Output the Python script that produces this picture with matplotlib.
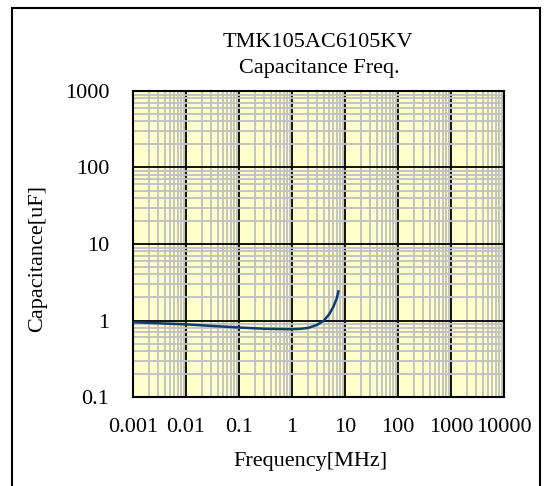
import matplotlib.pyplot as plt
from matplotlib.ticker import LogLocator, FixedLocator, NullFormatter
from matplotlib.patches import Rectangle

# values
freq_mhz = [0.001, 0.003, 0.01, 0.03, 0.1, 0.3, 1, 1.5, 2, 2.5, 3, 3.5, 4, 5, 6, 7, 7.5]
cap_uf = [0.95, 0.92, 0.89, 0.85, 0.81, 0.78, 0.77, 0.78, 0.80, 0.84, 0.88, 0.94, 1.0, 1.2, 1.5, 1.95, 2.4]

x_ticks = [0.001, 0.01, 0.1, 1, 10, 100, 1000, 10000]
x_tick_labels = ["0.001", "0.01", "0.1", "1", "10", "100", "1000", "10000"]
y_ticks = [0.1, 1, 10, 100, 1000]
y_tick_labels = ["0.1", "1", "10", "100", "1000"]

title_lines = ["TMK105AC6105KV", "Capacitance Freq."]

plt.rcParams['font.family'] = ['Liberation Serif', 'DejaVu Serif']
fs = 16

W, H = 545, 486
fig = plt.figure(figsize=(W / 100, H / 100), dpi=100)
left, right, top, bottom = 133, 504, 91, 397
ax = fig.add_axes([left / W, 1 - bottom / H, (right - left) / W, (bottom - top) / H])

ax.set_facecolor('#ffffcc')
ax.set_xscale('log')
ax.set_yscale('log')
ax.set_xlim(0.001, 10000)
ax.set_ylim(0.1, 1000)

ax.xaxis.set_major_locator(FixedLocator(x_ticks))
ax.yaxis.set_major_locator(FixedLocator(y_ticks))
ax.set_xticklabels(x_tick_labels)
ax.set_yticklabels(y_tick_labels)
ax.xaxis.set_minor_locator(LogLocator(base=10, subs=range(2, 10), numticks=20))
ax.yaxis.set_minor_locator(LogLocator(base=10, subs=range(2, 10), numticks=20))
ax.xaxis.set_minor_formatter(NullFormatter())
ax.yaxis.set_minor_formatter(NullFormatter())

ax.grid(which='minor', color='#c0c0c0', linewidth=1.3, zorder=1)
ax.grid(which='major', color='black', linewidth=1.3, zorder=2)
ax.set_axisbelow(True)
ax.tick_params(which='both', length=0)
ax.tick_params(axis='x', pad=15, labelsize=fs)
ax.tick_params(axis='y', pad=17, labelsize=fs)
for s in ax.spines.values():
    s.set_linewidth(1.5)

ax.plot(freq_mhz, cap_uf, color='#0d3d6e', linewidth=1.8, zorder=3)

fig.text(318 / W, 1 - 47 / H, title_lines[0], ha='center', va='baseline', fontsize=fs)
fig.text(319 / W, 1 - 73 / H, title_lines[1], ha='center', va='baseline', fontsize=fs)
fig.text(310 / W, 1 - 466 / H, "Frequency[MHz]", ha='center', va='baseline', fontsize=fs)
fig.text(38 / W, 1 - 258 / H, "Capacitance[uF]", ha='center', va='center',
         rotation=90, fontsize=fs)

# outer chart frame (bottom edge falls outside the image)
fig.patches.append(Rectangle((12 / W, -0.05), (540 - 12) / W, 1.05 - 8 / H,
                             transform=fig.transFigure, fill=False,
                             edgecolor='black', linewidth=1.5))

fig.savefig('out.png', dpi=100)
